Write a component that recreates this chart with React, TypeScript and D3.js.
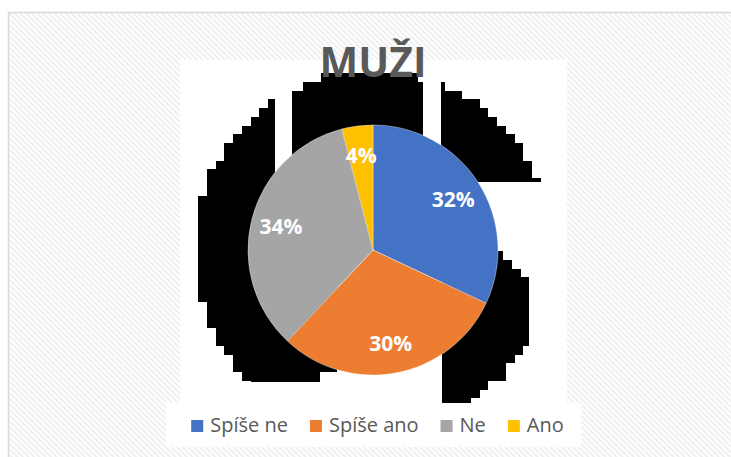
import React, { useEffect, useRef } from "react";
import * as d3 from "d3";

const categories = ["Spíše ne", "Spíše ano", "Ne", "Ano"];
const shares = [32, 30, 34, 4];
const colors = ["#4472C4", "#ED7D31", "#A5A5A5", "#FFC000"];
const title = "MUŽI";

const width = 731,
  height = 457;
const cx = 373,
  cy = 250,
  radius = 125;

// white panels behind plot area and legend: [x, y, w, h]
const panels = [
  [180, 60, 387, 310],
  [180, 370, 375, 33],
  [166, 403, 415, 44],
];

// the black blocky "shadow" around the pie: pixelated disc with white notches
const shadowRadius = 179;
const shadowCell = 8.77;
const notches = [
  [-98, -190, 17, 190],
  [50, -190, 18, 190],
  [0, -68, 194, 69],
  [130, 1, 64, 9],
  [139, 10, 55, 9],
  [148, 19, 46, 8],
  [156, 27, 38, 126],
  [-36, 0, 105, 153],
  [-53, 122, 17, 31],
  [-193, 132, 140, 21],
];

export default function App() {
  const ref = useRef<SVGSVGElement>(null);

  useEffect(() => {
    const svg = d3.select(ref.current);
    svg.selectAll("*").remove();

    const defs = svg.append("defs");
    const pat = defs
      .append("pattern")
      .attr("id", "hatch")
      .attr("width", 4)
      .attr("height", 4)
      .attr("patternUnits", "userSpaceOnUse")
      .attr("patternTransform", "rotate(-45)");
    pat.append("rect").attr("width", 4).attr("height", 4).attr("fill", "#ffffff");
    pat.append("rect").attr("width", 2).attr("height", 4).attr("fill", "#f0f0f0");

    defs
      .append("clipPath")
      .attr("id", "plotclip")
      .append("rect")
      .attr("x", 180)
      .attr("y", 60)
      .attr("width", 387)
      .attr("height", 343);

    // chart frame
    svg
      .append("rect")
      .attr("x", 8.5)
      .attr("y", 12.5)
      .attr("width", 800)
      .attr("height", 500)
      .attr("fill", "url(#hatch)")
      .attr("stroke", "#d9d9d9")
      .attr("stroke-width", 1.5);

    svg
      .append("g")
      .selectAll("rect")
      .data(panels)
      .enter()
      .append("rect")
      .attr("x", (d) => d[0])
      .attr("y", (d) => d[1])
      .attr("width", (d) => d[2])
      .attr("height", (d) => d[3])
      .attr("fill", "#ffffff");

    // blocky shadow: whole-pixel cells merged into one path
    let d = "";
    for (let i = -2; i < 45; i++) {
      for (let j = -2; j < 45; j++) {
        const x0 = Math.round(198 + i * shadowCell),
          x1 = Math.round(198 + (i + 1) * shadowCell),
          y0 = Math.round(73 + j * shadowCell),
          y1 = Math.round(73 + (j + 1) * shadowCell);
        const mx = (x0 + x1) / 2 - cx,
          my = (y0 + y1) / 2 - cy;
        if (Math.hypot(mx, my) <= shadowRadius)
          d += `M${x0},${y0}H${x1 + 1}V${y1 + 1}H${x0}Z`;
      }
    }
    const shadow = svg
      .append("g")
      .attr("clip-path", "url(#plotclip)")
      .attr("shape-rendering", "crispEdges");
    shadow.append("path").attr("d", d).attr("fill", "#000000");
    shadow
      .selectAll("rect.notch")
      .data(notches)
      .enter()
      .append("rect")
      .attr("class", "notch")
      .attr("x", (n) => cx + n[0])
      .attr("y", (n) => cy + n[1])
      .attr("width", (n) => n[2])
      .attr("height", (n) => n[3])
      .attr("fill", "#ffffff");

    // pie
    const pie = d3
      .pie<number>()
      .sort(null)
      .value((v) => v);
    const arcs = pie(shares);
    const arc = d3.arc<d3.PieArcDatum<number>>().innerRadius(0).outerRadius(radius);
    const labelArc = d3
      .arc<d3.PieArcDatum<number>>()
      .innerRadius(radius * 0.76)
      .outerRadius(radius * 0.76);

    const g = svg.append("g").attr("transform", `translate(${cx},${cy})`);
    g.selectAll("path")
      .data(arcs)
      .enter()
      .append("path")
      .attr("d", arc)
      .attr("fill", (a, i) => colors[i])
      .attr("stroke", "#ffffff")
      .attr("stroke-width", 0.4);

    g.selectAll("text")
      .data(arcs)
      .enter()
      .append("text")
      .attr("x", (a) => labelArc.centroid(a)[0])
      .attr("y", (a) => labelArc.centroid(a)[1])
      .attr("dy", "0.36em")
      .attr("text-anchor", "middle")
      .style("font-family", "'Open Sans', sans-serif")
      .style("font-weight", 700)
      .style("font-size", "21px")
      .style("fill", "#ffffff")
      .text((a) => `${a.data}%`);

    // title
    svg
      .append("text")
      .attr("x", cx)
      .attr("y", 77)
      .attr("text-anchor", "middle")
      .style("font-family", "'Open Sans', sans-serif")
      .style("font-weight", 700)
      .style("font-size", "41px")
      .style("fill", "#595959")
      .text(title);

    // legend
    const legend = svg.append("g");
    const items = legend
      .selectAll("g")
      .data(categories)
      .enter()
      .append("g");
    items
      .append("rect")
      .attr("width", 12)
      .attr("height", 12)
      .attr("y", 420)
      .attr("fill", (c, i) => colors[i]);
    items
      .append("text")
      .attr("x", 19)
      .attr("y", 432)
      .style("font-family", "'Open Sans', sans-serif")
      .style("font-size", "20px")
      .style("fill", "#595959")
      .text((c) => c);

    const widths: number[] = [];
    items.select("text").each(function () {
      widths.push((this as SVGTextElement).getComputedTextLength());
    });
    const gap = 22;
    const total = d3.sum(widths, (w) => 19 + w) + gap * (widths.length - 1);
    let pos = 377.5 - total / 2;
    items.attr("transform", (c, i) => {
      const t = `translate(${pos},0)`;
      pos += 19 + widths[i] + gap;
      return t;
    });
  }, []);

  return (
    <svg
      ref={ref}
      width={width}
      height={height}
      style={{ position: "absolute", left: 0, top: 0, display: "block" }}
    />
  );
}
